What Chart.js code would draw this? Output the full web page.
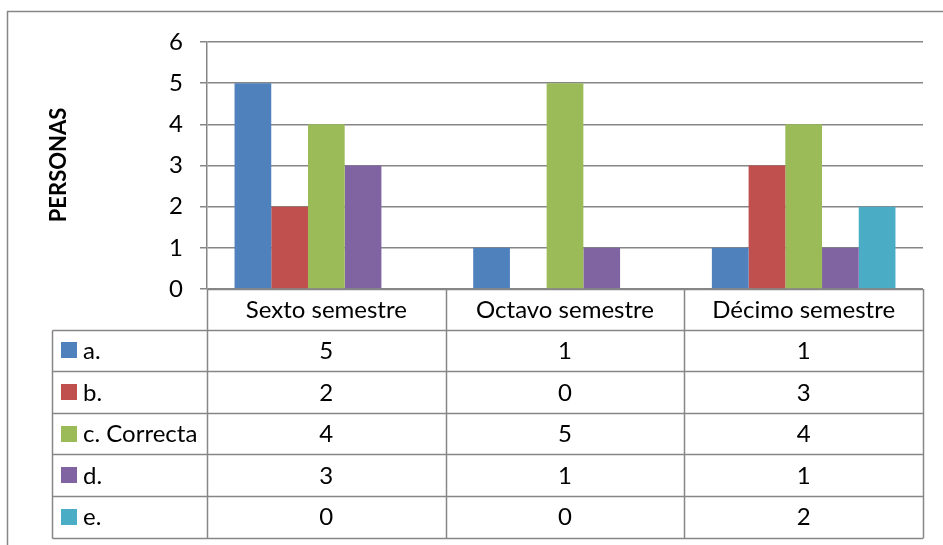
<!DOCTYPE html>
<html>
<head>
<meta charset="utf-8">
<script src="https://cdn.jsdelivr.net/npm/chart.js"></script>
<style>
  body { margin: 0; background: #fff; }
  #wrap { width: 943px; height: 545px; }
</style>
</head>
<body>
<div id="wrap"><canvas id="chart" width="943" height="545"></canvas></div>
<script>
const categories = ['Sexto semestre', 'Octavo semestre', 'Décimo semestre'];
const seriesNames = ['a.', 'b.', 'c. Correcta', 'd.', 'e.'];
const seriesA = [5, 1, 1];
const seriesB = [2, 0, 3];
const seriesC = [4, 5, 4];
const seriesD = [3, 1, 1];
const seriesE = [0, 0, 2];
const yTicks = [0, 1, 2, 3, 4, 5, 6];

const seriesValues = [seriesA, seriesB, seriesC, seriesD, seriesE];
const colors = ['#4F81BD', '#C0504D', '#9BBB59', '#8064A2', '#4BACC6'];
const lineColor = '#868686';
const textFont = '24px Lato, "Noto Sans", sans-serif';

// data table under the plot, plus outer frame and axis title
const tablePlugin = {
  id: 'dataTable',
  afterDraw(chart) {
    const ctx = chart.ctx;
    const area = chart.chartArea;
    const x = chart.scales.x;
    const rowH = 41.6;
    const headerBottom = area.bottom + 40.5;
    const tableLeft = 52.5;
    const rows = seriesNames.length;
    const tableBottom = headerBottom + rows * rowH;

    ctx.save();
    ctx.strokeStyle = lineColor;
    ctx.lineWidth = 1.5;

    // outer frame
    ctx.strokeRect(7.5, 11.5, 1000, 1000);

    // horizontal rules
    ctx.beginPath();
    ctx.moveTo(area.left, Math.round(area.bottom) + 0.5);
    ctx.lineTo(area.right, Math.round(area.bottom) + 0.5);
    for (let i = 0; i <= rows; i++) {
      const y = Math.round(headerBottom + i * rowH) + 0.5;
      ctx.moveTo(tableLeft, y);
      ctx.lineTo(area.right, y);
    }
    // vertical rules
    ctx.moveTo(tableLeft, Math.round(headerBottom) + 0.5);
    ctx.lineTo(tableLeft, Math.round(tableBottom) + 0.5);
    const step = (area.right - area.left) / categories.length;
    for (let c = 0; c <= categories.length; c++) {
      const vx = Math.round(area.left + c * step) + 0.5;
      ctx.moveTo(vx, area.bottom);
      ctx.lineTo(vx, Math.round(tableBottom) + 0.5);
    }
    ctx.stroke();

    // header labels and values
    ctx.fillStyle = '#000';
    ctx.font = textFont;
    ctx.textAlign = 'center';
    ctx.textBaseline = 'middle';
    categories.forEach((cat, c) => {
      const cx = x.getPixelForValue(c);
      ctx.fillText(cat, cx, (area.bottom + headerBottom) / 2 + 1);
      seriesValues.forEach((vals, s) => {
        const cy = headerBottom + s * rowH + rowH / 2 + 1;
        ctx.fillText(String(vals[c]), cx, cy);
      });
    });

    // legend keys
    ctx.textAlign = 'left';
    seriesNames.forEach((name, s) => {
      const cy = headerBottom + s * rowH + rowH / 2;
      ctx.fillStyle = colors[s];
      ctx.fillRect(61, Math.round(cy - 8), 16, 16);
      ctx.fillStyle = '#000';
      ctx.fillText(name, 83, cy + 1);
    });

    // axis title
    ctx.translate(59, 165);
    ctx.rotate(-Math.PI / 2);
    ctx.textAlign = 'center';
    ctx.font = 'bold 22px Lato, "Noto Sans", sans-serif';
    ctx.fillText('PERSONAS', 0, 0);
    ctx.restore();
  }
};

new Chart(document.getElementById('chart'), {
  type: 'bar',
  data: {
    labels: categories,
    datasets: seriesNames.map((name, i) => ({
      label: name,
      data: seriesValues[i],
      backgroundColor: colors[i],
      borderWidth: 0,
      barPercentage: 1,
      categoryPercentage: 5 / 6.5
    }))
  },
  options: {
    responsive: false,
    animation: false,
    layout: { padding: { left: 0, top: 42, right: 20, bottom: 256 } },
    plugins: {
      legend: { display: false },
      tooltip: { enabled: false }
    },
    scales: {
      x: { display: false },
      y: {
        min: 0,
        max: 6,
        afterFit: s => { s.width = 207; },
        afterBuildTicks: s => { s.ticks = yTicks.map(v => ({ value: v })); },
        ticks: { color: '#000', font: { family: 'Lato', size: 24 }, padding: 17 },
        grid: { color: lineColor, lineWidth: 1.5, tickLength: 7 },
        border: { color: lineColor, width: 1.5 }
      }
    }
  },
  plugins: [tablePlugin]
});
</script>
</body>
</html>
